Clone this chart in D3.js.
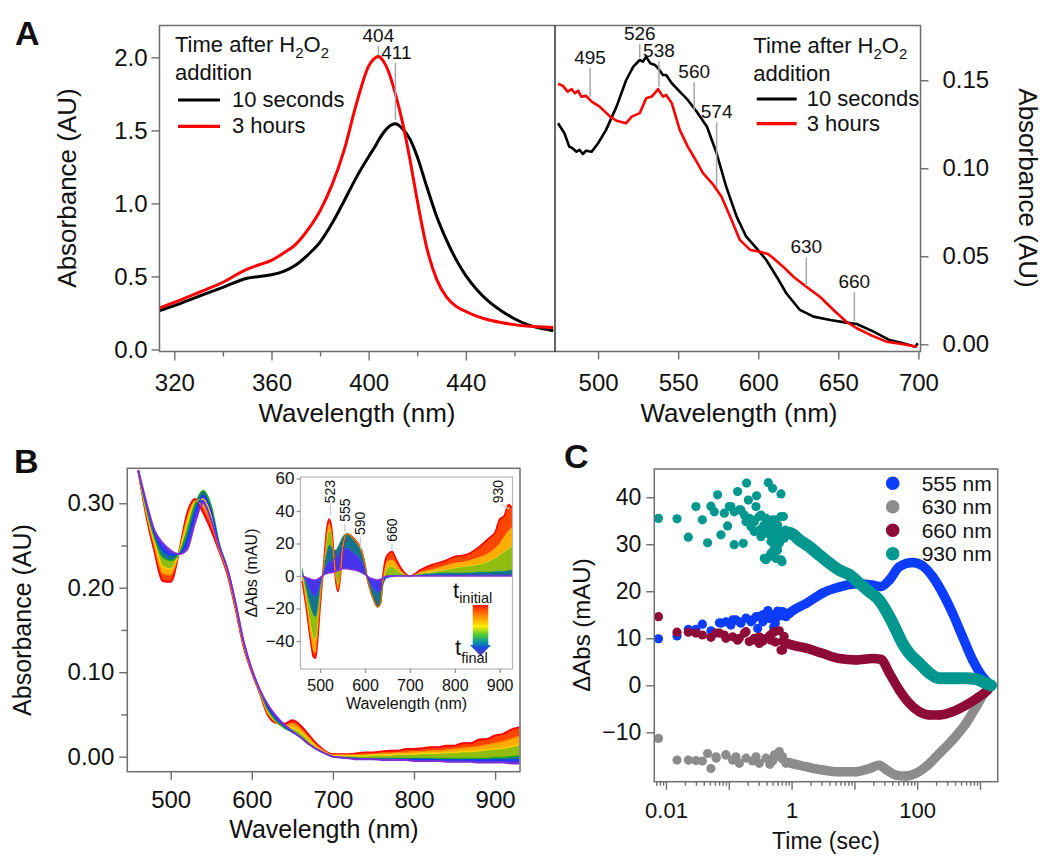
<!DOCTYPE html>
<html>
<head>
<meta charset="utf-8">
<script src="https://d3js.org/d3.v7.min.js"></script>
<style>
  body { margin: 0; background: #fff; }
  svg text { fill: #111; }
</style>
</head>
<body>
<div id="chart"></div>
<script>
// ---------------- Panel A data ----------------
const aLeftNm = [314,320,330,340,350,355,360,365,370,375,380,385,390,395,400,403,404,406,408,411,414,417,420,424,428,432,436,440,445,450,455,460,465,470,476];
const aLeft10s = [0.266,0.300,0.363,0.425,0.488,0.500,0.512,0.535,0.578,0.648,0.735,0.865,1.020,1.180,1.320,1.400,1.430,1.482,1.520,1.545,1.510,1.440,1.320,1.110,0.910,0.750,0.615,0.505,0.400,0.320,0.260,0.210,0.172,0.148,0.128];
const aLeft3h = [0.284,0.322,0.390,0.460,0.550,0.580,0.610,0.660,0.720,0.820,0.950,1.130,1.370,1.685,1.940,2.000,2.005,1.975,1.910,1.750,1.550,1.300,1.020,0.690,0.480,0.360,0.295,0.260,0.225,0.200,0.183,0.170,0.160,0.155,0.150];
const aLeftPeaks = [404, 411];

const aRight10s = [[475,0.1256],[479,0.1199],[482,0.1123],[484,0.1114],[486.5,0.1094],[488.5,0.1104],[490.5,0.1081],[492.5,0.1100],[496,0.1094],[500,0.1142],[505,0.1218],[511.5,0.1350],[517.5,0.1500],[522,0.1577],[526,0.1615],[528,0.1606],[530,0.1634],[532.5,0.1597],[535.5,0.1587],[537.5,0.1568],[540.5,0.1530],[542.5,0.1530],[546,0.1483],[551,0.1435],[556,0.1388],[561.5,0.1322],[568,0.1236],[574,0.1085],[580,0.0895],[586.5,0.0725],[592.5,0.0611],[599,0.0545],[605,0.0479],[611.5,0.0384],[617.5,0.0290],[626,0.0195],[634.5,0.0157],[645,0.0138],[655,0.0123],[661.5,0.0115],[672,0.0072],[682,0.0024],[690.5,0.0006],[698,-0.0014],[699.6,0.0006]];
const aRight3h = [[475,0.1480],[478,0.1468],[481,0.1435],[483.5,0.1449],[485.5,0.1426],[487.5,0.1441],[489.5,0.1407],[492.5,0.1411],[496,0.1378],[501,0.1350],[507.5,0.1293],[511.5,0.1270],[517.5,0.1256],[521,0.1293],[526,0.1313],[530,0.1398],[533.5,0.1407],[537.5,0.1449],[540.5,0.1407],[542.5,0.1416],[546,0.1370],[551,0.1218],[556,0.1123],[561.5,0.1038],[565.5,0.0972],[572,0.0905],[577,0.0839],[582.5,0.0725],[588.5,0.0593],[595,0.0536],[601,0.0526],[606,0.0513],[609.5,0.0489],[615.5,0.0441],[622,0.0384],[630,0.0327],[638.5,0.0270],[647,0.0195],[655,0.0128],[661.5,0.0091],[670,0.0053],[680,0.0015],[690.5,0.0000],[699,-0.0014]];
const aRightPeaks = [495, 526, 538, 560, 574, 630, 660];
const aLegend = ["10 seconds", "3 hours"];

// ---------------- Panel B data ----------------
const bNm = [460,470,480,490,500,510,520,530,540,550,560,570,580,590,600,610,620,630,640,650,660,670,680,690,700,
             710,720,730,740,750,760,770,780,790,800,810,820,830,840,850,860,870,880,890,900,910,920,930];
const bRed    = [.339,.285,.243,.208,.207,.241,.287,.305,.289,.268,.243,.216,.175,.130,.100,.075,.049,.040,.039,.043,.037,.026,.015,.007,.003,
                 .003,.003,.004,.005,.005,.006,.007,.007,.009,.009,.010,.011,.011,.013,.013,.016,.016,.020,.021,.025,.027,.032,.035];
const bOrange = [.339,.288,.249,.217,.215,.241,.281,.302,.296,.276,.245,.219,.177,.132,.101,.076,.051,.041,.037,.039,.033,.023,.013,.006,.002,
                 .002,.002,.002,.003,.003,.004,.004,.005,.005,.006,.006,.007,.007,.008,.009,.010,.011,.012,.014,.016,.018,.021,.024];
const bYellow = [.339,.291,.254,.225,.222,.241,.275,.302,.305,.285,.247,.220,.179,.133,.102,.077,.053,.041,.035,.034,.029,.020,.011,.005,.001,
                 .001,.001,.001,.001,.002,.002,.002,.003,.003,.003,.004,.004,.004,.005,.005,.006,.006,.007,.008,.009,.010,.012,.014];
const bGreen  = [.339,.294,.259,.236,.232,.240,.266,.299,.315,.297,.252,.223,.181,.135,.103,.078,.055,.042,.034,.029,.023,.015,.009,.004,.000,
                 -.001,-.001,-.002,-.002,-.002,-.002,-.002,-.002,-.002,-.002,-.002,-.002,-.002,-.002,-.002,-.002,-.002,-.002,-.002,-.001,-.001,.000,.001];
const bBlue   = [.339,.298,.264,.245,.239,.240,.255,.289,.309,.291,.250,.222,.182,.136,.104,.079,.058,.045,.036,.029,.023,.015,.009,.004,.000,
                 -.001,-.002,-.002,-.003,-.003,-.003,-.003,-.003,-.003,-.003,-.003,-.003,-.004,-.004,-.004,-.004,-.004,-.004,-.004,-.004,-.004,-.004,-.004];
const bPurple = [.339,.301,.268,.253,.244,.240,.245,.277,.300,.280,.248,.222,.182,.136,.103,.079,.061,.048,.038,.030,.023,.015,.009,.004,.000,
                 -.001,-.002,-.003,-.003,-.003,-.004,-.004,-.004,-.004,-.005,-.005,-.005,-.005,-.006,-.006,-.006,-.006,-.007,-.007,-.007,-.007,-.008,-.008];

const insetNm = [460,470,480,485,490,495,500,505,510,515,520,525,530,535,540,545,550,560,570,580,590,600,605,610,620,628,635,640,645,650,660,670,680,690,700,725,750,775,800,825,850,875,890,900,910,920,930];
const iRed    = [-3,-21,-42,-49.6,-50.5,-38,-19,-3,14,29,35,31,16,-3,-9.5,-1,17,26,24.5,21.5,17.5,7,-1.5,-7,-15,-19,-16.5,0,9.5,13,15,10,5,1.5,0,4,7,9,12,13,17,23,27,35,37,44,41];
const iOrange = [-1,-19,-39,-46,-47,-35,-17,-3,12,26,32,29,15,-2,-8,-1,17,26,24.5,21.5,17.5,7,-1.5,-7,-15,-19,-16.5,-1,6,9,10,7,3,1,0,2.5,4,6,8,9,11,14,17,20,24,28,30];
const iYellow = [1,-15,-32,-38,-39,-29,-13,-2,10,22,28,26,14,0,-5,0,17,26,24.5,21.5,17.5,7,-1.5,-7,-15,-19,-16.5,-3,2,5,6,4,2,0.5,0,1.5,2.5,3.5,5,6,7,9,11,13,15,17,19];
const iGreen  = [5,-9,-20,-24,-25,-19,-8,0,8,15,19,18,16,16,18,21,24,26,23.5,20.5,16,6,-1.5,-7,-15,-19,-16,-6,-2,0,0.5,0.5,0.5,0,0,1,1.5,2,2,2,2.5,2.5,3,3,3,3.5,4];
const iBlue   = [2,-4,-10,-12,-12.5,-10,-5,0,4,7,9,9,10,11,13,15,17,17,15,13,10,4,-1,-4,-8,-10,-9,-5,-2,-1,-0.5,0,0,0,0,0.5,0.5,0.5,0.5,0.5,0.5,0.5,0.5,0.5,0.5,0.5,0.5];
const iPurple = [0,-1,-2,-2.5,-2.5,-2,-1,0,1,1.5,2,2,2.5,3,3.5,4,4.5,4.5,4,3.5,2.5,1,0,-1,-2,-2.5,-2,-1,-0.5,0,0,0,0,0,0,0,0,0,0,0,0,0,0,0,0,0,0];
const insetPeaks = [523, 555, 590, 660, 930];

// ---------------- Panel C data ----------------
const c555Sparse = [[0.0076,9.9],[0.015,10.5],[0.0227,11.9],[0.030,11.9],[0.038,13],[0.052,11.6],[0.071,13.3],[0.0751,13.2],[0.090,13.5],[0.108,12.8],[0.115,13.9],[0.13,13.9],[0.147,13.5],[0.156,13.2],[0.188,14.3],[0.226,13.5],[0.239,13.9],[0.271,14.6],[0.288,12.1],[0.306,14.6],[0.345,15],[0.35,13.5],[0.391,15.3],[0.415,14.3],[0.42,15.9],[0.45,14.2],[0.498,15],[0.52,12.4],[0.55,13.2],[0.598,14.6],[0.6,15.8],[0.637,15.7],[0.7,14.8],[0.719,15.7],[0.75,15.5],[0.814,14.6]];
const c555Dense = [[0.9,15.2],[1,15.7],[1.7,17.4],[3.1,19.6],[5.75,20.9],[10.6,21.6],[19.5,21.3],[26.5,21],[36,22.4],[51.9,25.2],[84.6,26.1],[122,25.4],[176,23.1],[254,19.6],[366,15.3],[528,10.3],[762,5.4],[1100,1.8],[1496,0]];
const c630Sparse = [[0.0076,-11.3],[0.015,-15.9],[0.0227,-15.9],[0.030,-16],[0.038,-16.1],[0.046,-14.5],[0.052,-17.7],[0.0625,-15.2],[0.063,-15.5],[0.090,-14.8],[0.09,-14.8],[0.115,-15.9],[0.13,-15.2],[0.147,-16.6],[0.188,-15.5],[0.239,-16.1],[0.271,-15.2],[0.306,-16.6],[0.391,-15.5],[0.45,-16.8],[0.498,-16.1],[0.531,-14.8],[0.55,-15.2],[0.637,-14.1],[0.7,-15.6],[0.719,-15.2],[0.814,-16.6]];
const c630Dense = [[0.9,-16.4],[1,-16.6],[1.7,-17.3],[3.1,-18],[5.75,-18.4],[10.6,-18.4],[17.3,-17.7],[24.9,-17],[31.8,-17.9],[45.9,-19.1],[66.3,-19.3],[95.7,-18.7],[138,-17.3],[225,-14.5],[366,-11.6],[598,-8.1],[863,-4.6],[1170,-1.7],[1496,0]];
const c660Sparse = [[0.0076,14.6],[0.015,11.3],[0.0227,11.3],[0.030,11.1],[0.038,10.7],[0.052,10.2],[0.0625,11.1],[0.071,11.1],[0.0848,10.7],[0.090,10],[0.115,10.3],[0.138,9.6],[0.147,10],[0.177,11.1],[0.188,11.4],[0.212,9.3],[0.239,9.6],[0.255,10],[0.306,10.3],[0.306,8.9],[0.35,9.4],[0.391,10],[0.45,10.6],[0.47,9.6],[0.498,11.1],[0.531,11.4],[0.55,9.2],[0.637,11.6],[0.678,7.5],[0.719,7.5],[0.719,9.3],[0.76,10.4],[0.814,8.9]];
const c660Dense = [[0.9,8.8],[1,8.6],[1.7,7.9],[3.1,6.8],[5.75,5.7],[10.6,5.4],[19.5,5.7],[26.5,5.5],[36,2.6],[51.9,-1],[74.8,-3.8],[108,-5.6],[156,-6.3],[225,-6.3],[366,-5.6],[598,-4.2],[975,-2.4],[1321,-1],[1496,0]];
const c930Sparse = [[0.0076,35.5],[0.015,35.4],[0.0227,31.5],[0.030,38],[0.038,35.2],[0.046,30.3],[0.052,38.1],[0.0588,36.9],[0.0664,40.5],[0.0751,32],[0.0848,36.6],[0.0957,33.9],[0.102,38],[0.108,38],[0.122,29.9],[0.122,36.9],[0.138,41.2],[0.147,37.3],[0.156,37.3],[0.17,30.2],[0.177,36.2],[0.188,34.8],[0.192,43],[0.205,39.4],[0.212,35.5],[0.226,33.7],[0.239,35.2],[0.255,32.7],[0.255,34.8],[0.271,38],[0.277,40.3],[0.306,35.9],[0.306,33],[0.326,31.6],[0.326,36.2],[0.354,33.7],[0.367,34.1],[0.367,27],[0.391,26.7],[0.391,35.5],[0.415,32.3],[0.426,43.1],[0.442,33],[0.442,33.7],[0.442,27.4],[0.47,28.1],[0.47,30.6],[0.498,41.9],[0.498,35.2],[0.53,32],[0.531,33],[0.531,29.1],[0.565,35.2],[0.565,31.6],[0.565,27],[0.577,27],[0.598,34.1],[0.598,28.8],[0.637,30.6],[0.637,30.2],[0.678,40.7],[0.678,35.9],[0.678,26.7],[0.703,26.3],[0.719,32.7],[0.738,35.9],[0.765,31.3],[0.794,33],[0.919,32]];
const c930Dense = [[0.85,32.5],[1,32.3],[1.33,30.9],[1.91,29.5],[2.76,27.7],[3.98,26],[5.75,24.5],[8.3,23.5],[12,21.7],[17.3,19.9],[24.9,18.1],[36,14.6],[45.9,11.8],[58.6,8.9],[74.8,6.8],[108,4.7],[156,2.6],[225,1.5],[366,1.5],[598,1.5],[863,1.3],[1245,0.4],[1496,0]];
const cLegend = ["555 nm", "630 nm", "660 nm", "930 nm"];

// ---------------- helpers ----------------
const FONT = '"Liberation Sans", Arial, Helvetica, sans-serif';
const svg = d3.select("#chart").append("svg")
  .attr("width", 1050).attr("height", 860)
  .style("font-family", FONT);
const defs = svg.append("defs");

function clip(id, x0, y0, x1, y1) {
  defs.append("clipPath").attr("id", id).append("rect")
    .attr("x", x0).attr("y", y0).attr("width", x1 - x0).attr("height", y1 - y0);
}
function styleAxis(g, fs, col) {
  g.attr("font-family", FONT).attr("font-size", fs);
  g.select(".domain").remove();
  g.selectAll(".tick line").attr("stroke", col || "#6e6e6e").attr("stroke-width", 1.4);
  g.selectAll(".tick text").attr("fill", "#111");
}
function h2o2(g, x, y, fs) {
  const t = g.append("text").attr("x", x).attr("y", y).attr("font-size", fs);
  t.append("tspan").text("Time after H");
  t.append("tspan").text("2").attr("font-size", fs * 0.68).attr("dy", fs * 0.28);
  t.append("tspan").text("O").attr("dy", -fs * 0.28);
  t.append("tspan").text("2").attr("font-size", fs * 0.68).attr("dy", fs * 0.28);
}
function vtitle(g, x, y, txt, fs, rot) {
  g.append("text").attr("transform", `translate(${x},${y}) rotate(${rot})`)
    .attr("text-anchor", "middle").attr("dominant-baseline", "central")
    .attr("font-size", fs).text(txt);
}

// ================= Panel A =================
const xAL = d3.scaleLinear().domain([313.9, 476.7]).range([159.5, 555]);
const xAR = d3.scaleLinear().domain([473.1, 701.3]).range([555, 920.5]);
const yAL = d3.scaleLinear().domain([-0.014, 2.218]).range([351.5, 25.5]);
const yAR = d3.scaleLinear().domain([-0.0041, 0.1811]).range([351.5, 25.5]);
clip("clipAL", 159.5, 25.5, 555, 351.5);
clip("clipAR", 555, 25.5, 920.5, 351.5);
const gA = svg.append("g");

const lineAL = d3.line().x((d, i) => xAL(aLeftNm[i])).y(d => yAL(d)).curve(d3.curveMonotoneX);
gA.append("path").attr("clip-path", "url(#clipAL)").attr("d", lineAL(aLeft10s))
  .attr("fill", "none").attr("stroke", "#000").attr("stroke-width", 3);
gA.append("path").attr("clip-path", "url(#clipAL)").attr("d", lineAL(aLeft3h))
  .attr("fill", "none").attr("stroke", "#ff0000").attr("stroke-width", 3);

const lineAR = d3.line().x(d => xAR(d[0])).y(d => yAR(d[1]));
gA.append("path").attr("clip-path", "url(#clipAR)").attr("d", lineAR(aRight10s))
  .attr("fill", "none").attr("stroke", "#000").attr("stroke-width", 2.6).attr("stroke-linejoin", "round");
gA.append("path").attr("clip-path", "url(#clipAR)").attr("d", lineAR(aRight3h))
  .attr("fill", "none").attr("stroke", "#ff0000").attr("stroke-width", 2.6).attr("stroke-linejoin", "round");

gA.append("rect").attr("x", 159.5).attr("y", 25.5).attr("width", 761).attr("height", 326)
  .attr("fill", "none").attr("stroke", "#6e6e6e").attr("stroke-width", 1.5);
gA.append("line").attr("x1", 555).attr("x2", 555).attr("y1", 25.5).attr("y2", 351.5)
  .attr("stroke", "#333").attr("stroke-width", 1.5);

styleAxis(gA.append("g").attr("transform", "translate(0,351.5)")
  .call(d3.axisBottom(xAL).tickValues([320, 360, 400, 440]).tickSize(9).tickPadding(13).tickFormat(d3.format("d"))), 24);
styleAxis(gA.append("g").attr("transform", "translate(0,351.5)")
  .call(d3.axisBottom(xAL).tickValues([340, 380, 420, 460]).tickSize(5).tickFormat("")), 24);
styleAxis(gA.append("g").attr("transform", "translate(0,351.5)")
  .call(d3.axisBottom(xAR).tickValues([500, 550, 600, 650, 700]).tickSize(8).tickPadding(14).tickFormat(d3.format("d"))), 24);
styleAxis(gA.append("g").attr("transform", "translate(159.5,0)")
  .call(d3.axisLeft(yAL).tickValues([0, 0.5, 1, 1.5, 2]).tickSize(8).tickPadding(4).tickFormat(d3.format(".1f"))), 24);
styleAxis(gA.append("g").attr("transform", "translate(920.5,0)")
  .call(d3.axisRight(yAR).tickValues([0, 0.05, 0.10, 0.15]).tickSize(8).tickPadding(14).tickFormat(d3.format(".2f"))), 24);

vtitle(gA, 67, 188, "Absorbance (AU)", 26, -90);
vtitle(gA, 1028, 188, "Absorbance (AU)", 26, 90);
gA.append("text").attr("x", 357).attr("y", 422).attr("text-anchor", "middle").attr("font-size", 26).text("Wavelength (nm)");
gA.append("text").attr("x", 739).attr("y", 422).attr("text-anchor", "middle").attr("font-size", 26).text("Wavelength (nm)");
gA.append("text").attr("x", 15).attr("y", 45).attr("font-size", 34).attr("font-weight", "bold").text("A");

// peak labels, left part
const aLeftPeakPos = [{ty: 41.7, y1: 46, y2: 55}, {ty: 59.3, y1: 63, y2: 120}];
aLeftPeaks.forEach((nm, i) => {
  const p = aLeftPeakPos[i];
  gA.append("line").attr("x1", xAL(nm)).attr("x2", xAL(nm)).attr("y1", p.y1).attr("y2", p.y2)
    .attr("stroke", "#a8a8a8").attr("stroke-width", 1.5);
  gA.append("text").attr("x", xAL(nm) + (i === 1 ? 1 : 0)).attr("y", p.ty).attr("text-anchor", "middle")
    .attr("font-size", 19).text(nm);
});
// peak labels, right part
const aRightPeakPos = [
  {ty: 64, y2: 97}, {ty: 40, y2: 58}, {ty: 57.3, y2: 87}, {ty: 78.3, y2: 110},
  {ty: 118.3, y2: 187}, {ty: 253.3, y2: 286}, {ty: 288.3, y2: 321}];
aRightPeaks.forEach((nm, i) => {
  const p = aRightPeakPos[i];
  gA.append("line").attr("x1", xAR(nm)).attr("x2", xAR(nm)).attr("y1", p.ty + 4).attr("y2", p.y2)
    .attr("stroke", "#a8a8a8").attr("stroke-width", 1.5);
  gA.append("text").attr("x", xAR(nm)).attr("y", p.ty).attr("text-anchor", "middle")
    .attr("font-size", 19).text(nm);
});

// legends
function legendA(x0, lx0, lx1, tx, rows) {
  h2o2(gA, x0, rows[0], 22);
  gA.append("text").attr("x", x0).attr("y", rows[1]).attr("font-size", 22).text("addition");
  aLegend.forEach((lab, i) => {
    const yl = rows[2 + i];
    gA.append("line").attr("x1", lx0).attr("x2", lx1).attr("y1", yl - 7).attr("y2", yl - 7)
      .attr("stroke", i === 0 ? "#000" : "#ff0000").attr("stroke-width", 3.2);
    gA.append("text").attr("x", tx).attr("y", yl).attr("font-size", 22).text(lab);
  });
}
legendA(175, 178, 220, 232, [51.7, 80, 107, 133.3]);
legendA(753.3, 756.7, 796.7, 806.7, [53.3, 80.5, 106, 130.7]);

// ================= Panel B =================
const bColors = ["#ff0000", "#ff8a00", "#ffd200", "#1faa1f", "#0a3cff", "#7f2fd8"];
const bSeries = [bRed, bOrange, bYellow, bGreen, bBlue, bPurple];
const iSeries = [iRed, iOrange, iYellow, iGreen, iBlue, iPurple];

const xB = d3.scaleLinear().domain([446.5, 930.7]).range([127.3, 520]);
const yB = d3.scaleLinear().domain([-0.0178, 0.3414]).range([771.7, 468.3]);
clip("clipB", 127.3, 468.3, 520, 771.7);
const gB = svg.append("g");
const gBd = gB.append("g").attr("clip-path", "url(#clipB)");

function drawFamily(g, nm, series, xs, ys, lw, edgeW) {
  for (let k = 0; k < series.length - 1; k++) {
    const area = d3.area().x((d, i) => xs(nm[i])).y0((d, i) => ys(series[k][i])).y1((d, i) => ys(series[k + 1][i]))
      .curve(d3.curveMonotoneX);
    g.append("path").attr("d", area(series[k]))
      .attr("fill", d3.interpolateRgb(bColors[k], bColors[k + 1])(0.5)).attr("stroke", "none");
  }
  series.forEach((s, k) => {
    const edge = k === 0 || k === series.length - 1;
    const line = d3.line().x((d, i) => xs(nm[i])).y(d => ys(d)).curve(d3.curveMonotoneX);
    g.append("path").attr("d", line(s)).attr("fill", "none").attr("stroke", bColors[k])
      .attr("stroke-width", edge ? edgeW : lw);
  });
}
drawFamily(gBd, bNm, bSeries, xB, yB, 1.4, 2.0);

gB.append("rect").attr("x", 127.3).attr("y", 468.3).attr("width", 392.7).attr("height", 303.4)
  .attr("fill", "none").attr("stroke", "#6e6e6e").attr("stroke-width", 1.5);
styleAxis(gB.append("g").attr("transform", "translate(0,771.7)")
  .call(d3.axisBottom(xB).tickValues([500, 600, 700, 800, 900]).tickSize(8).tickPadding(11).tickFormat(d3.format("d"))), 24);
styleAxis(gB.append("g").attr("transform", "translate(127.3,0)")
  .call(d3.axisLeft(yB).tickValues([0, 0.1, 0.2, 0.3]).tickSize(8).tickPadding(5).tickFormat(d3.format(".2f"))), 24);
styleAxis(gB.append("g").attr("transform", "translate(127.3,0)")
  .call(d3.axisLeft(yB).tickValues([0.05, 0.15, 0.25]).tickSize(6).tickFormat("")), 24);
vtitle(gB, 22, 620, "Absorbance (AU)", 25, -90);
gB.append("text").attr("x", 324).attr("y", 838).attr("text-anchor", "middle").attr("font-size", 25).text("Wavelength (nm)");
gB.append("text").attr("x", 14).attr("y", 473).attr("font-size", 34).attr("font-weight", "bold").text("B");

// inset
const xI = d3.scaleLinear().domain([456.4, 928.6]).range([300.5, 512.5]);
const yI = d3.scaleLinear().domain([-57.2, 60.9]).range([669, 477]);
clip("clipI", 300.5, 477, 512.5, 669);
const gI = gB.append("g");
gI.append("rect").attr("x", 300.5).attr("y", 477).attr("width", 212).attr("height", 192).attr("fill", "#fff");
drawFamily(gI.append("g").attr("clip-path", "url(#clipI)"), insetNm, iSeries, xI, yI, 0.5, 1.6);
gI.append("rect").attr("x", 300.5).attr("y", 477).attr("width", 212).attr("height", 192)
  .attr("fill", "none").attr("stroke", "#b5b5b5").attr("stroke-width", 1.2);
styleAxis(gI.append("g").attr("transform", "translate(0,669)")
  .call(d3.axisBottom(xI).tickValues([500, 600, 700, 800, 900]).tickSize(4).tickPadding(7).tickFormat(d3.format("d"))), 16, "#999");
styleAxis(gI.append("g").attr("transform", "translate(300.5,0)")
  .call(d3.axisLeft(yI).tickValues([-40, -20, 0, 20, 40, 60]).tickSize(4).tickPadding(2).tickFormat(d3.format("d"))), 17, "#999");
vtitle(gI, 251.7, 573, "\u0394Abs (mAU)", 16, -90);
gI.append("text").attr("x", 406.5).attr("y", 709).attr("text-anchor", "middle").attr("font-size", 16).text("Wavelength (nm)");

const insetPeakPos = [
  {xc: null, yb: 503.3, y2: 516}, {xc: null, yb: 521.7, y2: 531}, {xc: null, yb: 535, y2: 549},
  {xc: null, yb: 541.7, y2: 551}, {xc: 498.3, yb: 503.3, y2: null}];
insetPeaks.forEach((nm, i) => {
  const p = insetPeakPos[i];
  const xc = p.xc === null ? xI(nm) : p.xc;
  gI.append("text").attr("transform", `translate(${xc + 5},${p.yb}) rotate(-90)`)
    .attr("font-size", 14).text(nm);
  if (p.y2 !== null) {
    gI.append("line").attr("x1", xc).attr("x2", xc).attr("y1", p.yb + 2).attr("y2", p.y2)
      .attr("stroke", "#c8c8c8").attr("stroke-width", 1.2);
  } else {
    gI.append("line").attr("x1", xc + 3).attr("x2", xc + 11).attr("y1", p.yb + 1).attr("y2", p.yb + 6)
      .attr("stroke", "#c8c8c8").attr("stroke-width", 1.2);
  }
});

// t_initial -> t_final arrow
const grad = defs.append("linearGradient").attr("id", "tgrad").attr("x1", 0).attr("x2", 0).attr("y1", 0).attr("y2", 1);
[["0%", "#ff1a00"], ["22%", "#ff8c00"], ["42%", "#ffee00"], ["58%", "#55cc33"], ["72%", "#0a9a9a"], ["84%", "#1a4de0"], ["100%", "#6a30a8"]]
  .forEach(s => grad.append("stop").attr("offset", s[0]).attr("stop-color", s[1]));
gI.append("path").attr("d", "M472.7,605 L488.3,605 L488.3,645 L491,645 L480.5,656 L470,645 L472.7,645 Z")
  .attr("fill", "url(#tgrad)");
const tI = gI.append("text").attr("x", 453).attr("y", 598).attr("font-size", 22);
tI.append("tspan").text("t");
tI.append("tspan").text("initial").attr("font-size", 14.5).attr("dy", 5);
const tF = gI.append("text").attr("x", 455).attr("y", 655).attr("font-size", 22);
tF.append("tspan").text("t");
tF.append("tspan").text("final").attr("font-size", 14.5).attr("dy", 8);

// ================= Panel C =================
const xC = d3.scaleLog().domain([0.00652, 1912]).range([654.3, 997.7]);
const yC = d3.scaleLinear().domain([-20.5, 46]).range([781.7, 469]);
clip("clipC", 654.3, 469, 997.7, 781.7);
const gC = svg.append("g");
const gCd = gC.append("g").attr("clip-path", "url(#clipC)");
const cColors = ["#0c3dff", "#8c8c8c", "#8e0a38", "#00978f"];
const cSets = [[c555Sparse, c555Dense], [c630Sparse, c630Dense], [c660Sparse, c660Dense], [c930Sparse, c930Dense]];
const lineC = d3.line().x(d => xC(d[0])).y(d => yC(d[1])).curve(d3.curveMonotoneX);
cSets.forEach((set, k) => {
  const g = gCd.append("g");
  g.append("path").attr("d", lineC(set[1])).attr("fill", "none").attr("stroke", cColors[k])
    .attr("stroke-width", k === 3 ? 12 : 9.5).attr("stroke-linecap", "round").attr("stroke-linejoin", "round");
  g.selectAll("circle").data(set[0].concat(set[1])).join("circle")
    .attr("cx", d => xC(d[0])).attr("cy", d => yC(d[1])).attr("r", 4.6).attr("fill", cColors[k]);
});

gC.append("rect").attr("x", 654.3).attr("y", 469).attr("width", 343.4).attr("height", 312.7)
  .attr("fill", "none").attr("stroke", "#6e6e6e").attr("stroke-width", 1.5);
styleAxis(gC.append("g").attr("transform", "translate(0,781.7)")
  .call(d3.axisBottom(xC).tickValues([0.01, 1, 100]).tickSize(8).tickPadding(13)
    .tickFormat(d => d < 1 ? "0.01" : d3.format("d")(d))), 22);
styleAxis(gC.append("g").attr("transform", "translate(0,781.7)")
  .call(d3.axisBottom(xC).tickValues([0.1, 10, 1000]).tickSize(8).tickFormat("")), 22);
const minorC = [];
for (let e = -3; e <= 3; e++) for (let m = 2; m <= 9; m++) {
  const v = m * Math.pow(10, e);
  if (v > 0.00652 && v < 1912) minorC.push(v);
}
styleAxis(gC.append("g").attr("transform", "translate(0,781.7)")
  .call(d3.axisBottom(xC).tickValues(minorC).tickSize(4).tickFormat("")), 22);
styleAxis(gC.append("g").attr("transform", "translate(654.3,0)")
  .call(d3.axisLeft(yC).tickValues([-10, 0, 10, 20, 30, 40]).tickSize(8).tickPadding(5).tickFormat(d3.format("d"))), 23);
vtitle(gC, 581, 625, "\u0394Abs (mAU)", 24, -90);
gC.append("text").attr("x", 826).attr("y", 849).attr("text-anchor", "middle").attr("font-size", 23).text("Time (sec)");
gC.append("text").attr("x", 564).attr("y", 468).attr("font-size", 34).attr("font-weight", "bold").text("C");

const legC = gC.append("g");
cLegend.forEach((lab, i) => {
  const yy = 483.3 + i * 23.5;
  legC.append("circle").attr("cx", 892.7).attr("cy", yy).attr("r", 6.8).attr("fill", cColors[i]);
  legC.append("text").attr("x", 921.7).attr("y", yy).attr("dominant-baseline", "central")
    .attr("font-size", 21).text(lab);
});
</script>
</body>
</html>
